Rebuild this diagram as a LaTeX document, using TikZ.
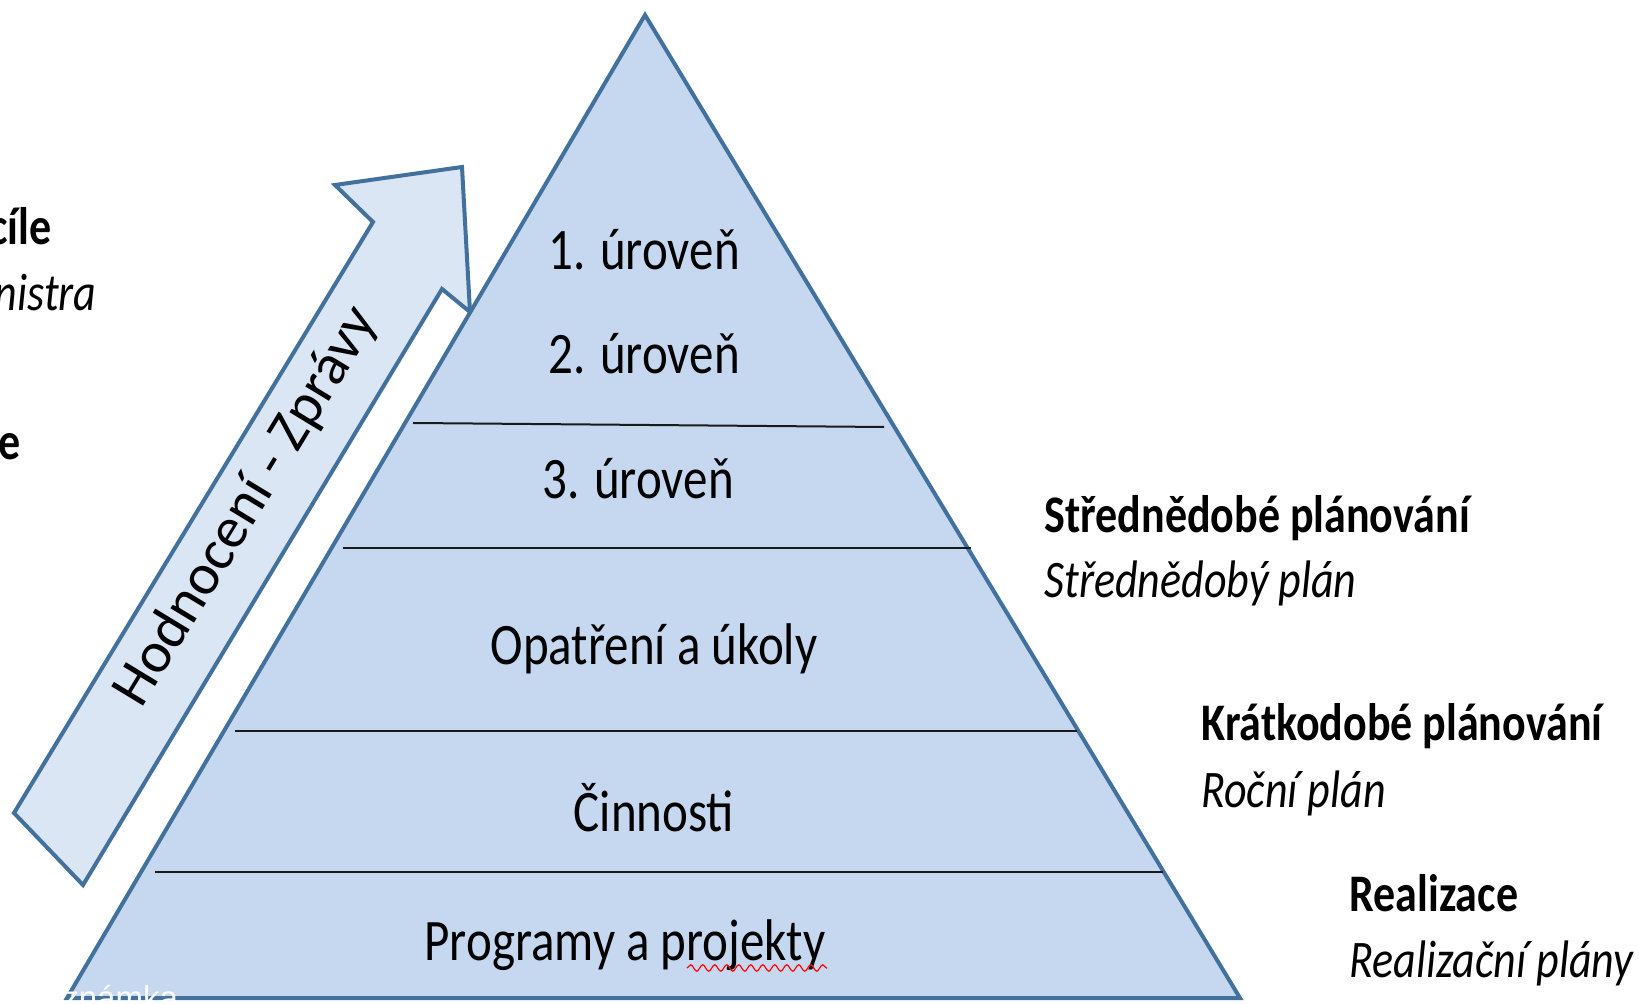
\documentclass[tikz,border=0pt]{standalone}
\usepackage{fontspec}
\setmainfont{Carlito}
\newfontfamily\arialfont{Liberation Sans}
\usetikzlibrary{decorations.pathmorphing}
\definecolor{pyrfill}{HTML}{C5D8EF}
\definecolor{pyredge}{HTML}{41719C}
\definecolor{arrfill}{HTML}{DBE6F4}
\definecolor{tierline}{HTML}{1A1A1A}
\newcommand{\vst}[1]{\scalebox{1}[1.2]{#1}}
\begin{document}
\begin{tikzpicture}[x=0.5pt,y=-0.5pt,
  outline/.style={draw=pyredge, line width=2pt, line join=miter},
  tier/.style={draw=tierline, line width=1pt},
  lvl/.style={anchor=base, inner sep=0pt, font=\fontsize{24.5pt}{28pt}\selectfont},
  side/.style={anchor=base west, inner sep=0pt, font=\fontsize{22pt}{26pt}\selectfont},
  cut/.style={anchor=base east, inner sep=0pt, font=\fontsize{22pt}{26pt}\selectfont}]
\useasboundingbox (0,0) rectangle (1639,1004);
% arrow
\path[outline, fill=arrfill] (14,813) -- (373,222) -- (335,185) -- (462,167) -- (470,312) -- (442,289) -- (83,885) -- cycle;
% pyramid
\path[outline, fill=pyrfill] (645,15) -- (1240,998) -- (67,998) -- cycle;
% tier lines
\draw[tier] (413,423) -- (884,427);
\draw[tier] (343,548) -- (971,548);
\draw[tier] (235,731) -- (1077,731);
\draw[tier] (155,872) -- (1163,872);
% level texts
\node[lvl] (l1) at (644,270) {\vst{1. úroveň}};
\node[lvl] (l2) at (644,374) {\vst{2. úroveň}};
\node[lvl] (l3) at (638,499) {\vst{3. úroveň}};
\node[lvl] (l4) at (654,665) {\vst{Opatření a úkoly}};
\node[lvl] (l5) at (654,832) {\vst{Činnosti}};
\node[lvl] (l6) at (625,960) {\vst{Programy a projekty}};
\draw[red, line width=0.6pt, decorate, decoration={snake, amplitude=1.6, segment length=6}] (687,968) -- (827,968);
% arrow text
\node[inner sep=0pt, rotate=58.7, font=\fontsize{29pt}{32pt}\selectfont] (hz) at (247,507) {Hodnocení - Zprávy};
% right texts
\node[side] (s1) at (1044,533) {\vst{\textbf{Střednědobé plánování}}};
\node[side] (s2) at (1044,598) {\vst{\textit{Střednědobý plán}}};
\node[side] (k1) at (1201,741) {\vst{\textbf{Krátkodobé plánování}}};
\node[side] (k2) at (1201,808) {\vst{\textit{Roční plán}}};
\node[side] (r1) at (1349,912) {\vst{\textbf{Realizace}}};
\node[side] (r2) at (1349,978) {\vst{\textit{Realizační plány}}};
% cut-off left texts
\node[cut] (c1) at (52,245) {\vst{\textbf{cíle}}};
\node[cut] (c2) at (97,311) {\vst{\textit{nistra}}};
\node[cut] (c3) at (21,460) {\vst{\textbf{e}}};
% white note text
\node[anchor=base west, inner sep=0pt, text=white, font=\arialfont\fontsize{16.5pt}{18pt}\selectfont] (note) at (62,1009) {známka};
\end{tikzpicture}
\end{document}
